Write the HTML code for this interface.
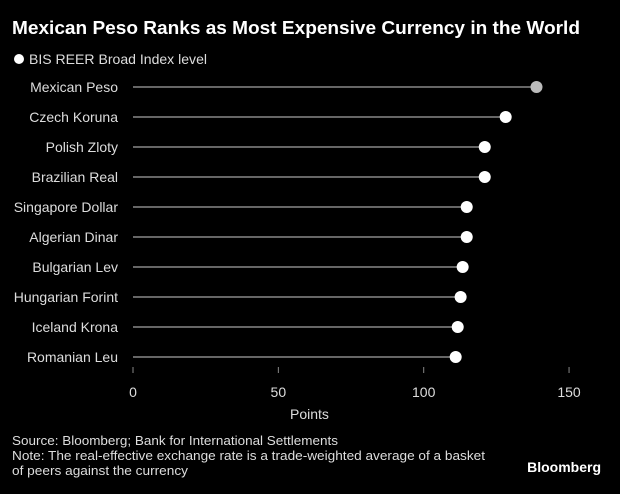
<!DOCTYPE html>
<html><head><meta charset="utf-8"><style>
body{margin:0;background:#000;width:620px;height:489px;overflow:hidden;font-family:"Liberation Sans",sans-serif;color:#fff}
</style></head><body>
<svg width="620" height="489" xmlns="http://www.w3.org/2000/svg">
<text x="12" y="34" font-size="18" font-weight="bold" fill="#fff" textLength="568" lengthAdjust="spacingAndGlyphs">Mexican Peso Ranks as Most Expensive Currency in the World</text>
<circle cx="19" cy="59" r="5" fill="#fff"/>
<text x="29" y="64" font-size="14" fill="#ddd" textLength="178" lengthAdjust="spacingAndGlyphs">BIS REER Broad Index level</text>
<g id="plot"></g>
<text x="290" y="419" font-size="14" fill="#ddd">Points</text>
<text x="12" y="445" font-size="13" fill="#ddd" textLength="326" lengthAdjust="spacingAndGlyphs">Source: Bloomberg; Bank for International Settlements</text>
<text x="12" y="460" font-size="13" fill="#ddd" textLength="473" lengthAdjust="spacingAndGlyphs">Note: The real-effective exchange rate is a trade-weighted average of a basket</text>
<text x="12" y="475" font-size="13" fill="#ddd" textLength="176" lengthAdjust="spacingAndGlyphs">of peers against the currency</text>
<text x="601" y="472" font-size="14" font-weight="bold" fill="#fff" text-anchor="end">Bloomberg</text>
</svg>
<script>
const categories=["Mexican Peso","Czech Koruna","Polish Zloty","Brazilian Real","Singapore Dollar","Algerian Dinar","Bulgarian Lev","Hungarian Forint","Iceland Krona","Romanian Leu"];
const values=[138.8,128.2,121,121,114.8,114.8,113.4,112.7,111.7,111];
const ticks=[0,50,100,150];
const ns="http://www.w3.org/2000/svg";
const g=document.getElementById("plot");
const x=v=>133+v*2.907;
const y=i=>87+i*30;
function mk(t,a){const e=document.createElementNS(ns,t);for(const k in a)e.setAttribute(k,a[k]);g.appendChild(e);return e;}
ticks.forEach(t=>{
 const l=mk("line",{x1:x(t),x2:x(t),y1:367,y2:373,stroke:"#888"});
 
 
 const tx=mk("text",{x:x(t),y:397,"font-size":14,fill:"#ddd","text-anchor":"middle"});tx.textContent=t;
 
 
});
categories.forEach((c,i)=>{
 const lb=mk("text",{x:118,y:y(i)+5,"font-size":14,fill:"#ddd","text-anchor":"end"});lb.textContent=c;
 
 
 const ln=mk("line",{x1:x(0),x2:x(values[i]),y1:y(i),y2:y(i),stroke:"#666","stroke-width":2});
 
 
 const d=mk("circle",{cx:x(values[i]),cy:y(i),r:6,fill:i===0?"#bbb":"#fff"});
 
 
});
</script>
</body></html>
